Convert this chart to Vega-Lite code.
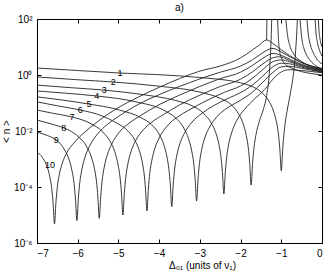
{
 "$schema": "https://vega.github.io/schema/vega-lite/v6.json",
 "width": 285, "height": 224,
 "autosize": {"type": "none"},
 "padding": {"left": 37, "top": 19, "right": 5, "bottom": 31},
 "title": {"text": "a)", "fontSize": 10, "font": "Liberation Sans", "fontWeight": "normal", "offset": 1, "color": "#000"},
 "config": {"view": {"stroke": "#000", "strokeWidth": 1}, "background": "#fff"},
 "datasets": {
  "curves": [
   {"s":"c10","x":-7,"y":-2.75},{"s":"c10","x":-6.87,"y":-2.94},{"s":"c10","x":-6.77,"y":-3.21},{"s":"c10","x":-6.69,"y":-3.6},{"s":"c10","x":-6.64,"y":-4.03},{"s":"c10","x":-6.605,"y":-4.56},{"s":"c10","x":-6.57,"y":-5.32},{"s":"c10","x":-6.535,"y":-4.55},{"s":"c10","x":-6.5,"y":-3.99},{"s":"c10","x":-6.45,"y":-3.54},{"s":"c10","x":-6.37,"y":-3.11},{"s":"c10","x":-6.27,"y":-2.78},{"s":"c10","x":-6.07,"y":-2.39},{"s":"c10","x":-5.82,"y":-2.03},{"s":"c10","x":-5.57,"y":-1.73},{"s":"c10","x":-5.1,"y":-1.25},{"s":"c10","x":-4.5,"y":-0.78},{"s":"c10","x":-4,"y":-0.44},{"s":"c10","x":-3.5,"y":-0.13},{"s":"c10","x":-3,"y":0.14},{"s":"c10","x":-2.5,"y":0.32},{"s":"c10","x":-2,"y":0.61},{"s":"c10","x":-1.75,"y":0.85},{"s":"c10","x":-1.55,"y":1.06},{"s":"c10","x":-1.36,"y":1.25},{"s":"c10","x":-1.2,"y":1.12},{"s":"c10","x":-1,"y":0.9},{"s":"c10","x":-0.8,"y":0.7},{"s":"c10","x":-0.5,"y":0.45},{"s":"c10","x":-0.25,"y":0.3},{"s":"c10","x":0,"y":0.2},
   {"s":"c9","x":-7,"y":-2.04},{"s":"c9","x":-6.75,"y":-2.16},{"s":"c9","x":-6.52,"y":-2.33},{"s":"c9","x":-6.32,"y":-2.68},{"s":"c9","x":-6.22,"y":-2.99},{"s":"c9","x":-6.14,"y":-3.42},{"s":"c9","x":-6.09,"y":-3.87},{"s":"c9","x":-6.055,"y":-4.43},{"s":"c9","x":-6.02,"y":-5.2},{"s":"c9","x":-5.985,"y":-4.42},{"s":"c9","x":-5.95,"y":-3.85},{"s":"c9","x":-5.9,"y":-3.39},{"s":"c9","x":-5.82,"y":-2.93},{"s":"c9","x":-5.72,"y":-2.57},{"s":"c9","x":-5.52,"y":-2.12},{"s":"c9","x":-5.27,"y":-1.76},{"s":"c9","x":-5.02,"y":-1.5},{"s":"c9","x":-4.5,"y":-1.04},{"s":"c9","x":-4,"y":-0.7},{"s":"c9","x":-3.5,"y":-0.41},{"s":"c9","x":-3,"y":-0.14},{"s":"c9","x":-2.5,"y":0.1},{"s":"c9","x":-2,"y":0.32},{"s":"c9","x":-1.7,"y":0.55},{"s":"c9","x":-1.5,"y":0.75},{"s":"c9","x":-1.3,"y":0.92},{"s":"c9","x":-1.2,"y":0.95},{"s":"c9","x":-1,"y":0.82},{"s":"c9","x":-0.7,"y":0.58},{"s":"c9","x":-0.4,"y":0.38},{"s":"c9","x":0,"y":0.2},
   {"s":"c8","x":-7,"y":-1.61},{"s":"c8","x":-6.6,"y":-1.77},{"s":"c8","x":-6.34,"y":-1.89},{"s":"c8","x":-6.1,"y":-2.07},{"s":"c8","x":-5.97,"y":-2.22},{"s":"c8","x":-5.77,"y":-2.58},{"s":"c8","x":-5.67,"y":-2.91},{"s":"c8","x":-5.59,"y":-3.34},{"s":"c8","x":-5.54,"y":-3.79},{"s":"c8","x":-5.505,"y":-4.35},{"s":"c8","x":-5.47,"y":-5.12},{"s":"c8","x":-5.435,"y":-4.34},{"s":"c8","x":-5.4,"y":-3.77},{"s":"c8","x":-5.35,"y":-3.3},{"s":"c8","x":-5.27,"y":-2.84},{"s":"c8","x":-5.17,"y":-2.48},{"s":"c8","x":-4.97,"y":-2.03},{"s":"c8","x":-4.72,"y":-1.7},{"s":"c8","x":-4.47,"y":-1.46},{"s":"c8","x":-4,"y":-1.06},{"s":"c8","x":-3.5,"y":-0.72},{"s":"c8","x":-3,"y":-0.41},{"s":"c8","x":-2.5,"y":-0.13},{"s":"c8","x":-2,"y":0.1},{"s":"c8","x":-1.7,"y":0.35},{"s":"c8","x":-1.45,"y":0.6},{"s":"c8","x":-1.2,"y":0.77},{"s":"c8","x":-1,"y":0.7},{"s":"c8","x":-0.7,"y":0.5},{"s":"c8","x":-0.4,"y":0.33},{"s":"c8","x":0,"y":0.18},
   {"s":"c7","x":-7,"y":-1.25},{"s":"c7","x":-6.6,"y":-1.37},{"s":"c7","x":-6.14,"y":-1.5},{"s":"c7","x":-5.7,"y":-1.72},{"s":"c7","x":-5.39,"y":-2.03},{"s":"c7","x":-5.19,"y":-2.41},{"s":"c7","x":-5.09,"y":-2.74},{"s":"c7","x":-5.01,"y":-3.2},{"s":"c7","x":-4.96,"y":-3.66},{"s":"c7","x":-4.925,"y":-4.22},{"s":"c7","x":-4.89,"y":-5},{"s":"c7","x":-4.855,"y":-4.23},{"s":"c7","x":-4.82,"y":-3.66},{"s":"c7","x":-4.77,"y":-3.19},{"s":"c7","x":-4.69,"y":-2.73},{"s":"c7","x":-4.59,"y":-2.38},{"s":"c7","x":-4.39,"y":-1.96},{"s":"c7","x":-4.14,"y":-1.64},{"s":"c7","x":-3.89,"y":-1.41},{"s":"c7","x":-3.5,"y":-1.07},{"s":"c7","x":-3,"y":-0.72},{"s":"c7","x":-2.5,"y":-0.41},{"s":"c7","x":-2,"y":-0.15},{"s":"c7","x":-1.7,"y":0.12},{"s":"c7","x":-1.45,"y":0.4},{"s":"c7","x":-1.2,"y":0.62},{"s":"c7","x":-1.05,"y":0.65},{"s":"c7","x":-0.8,"y":0.52},{"s":"c7","x":-0.5,"y":0.35},{"s":"c7","x":0,"y":0.16},
   {"s":"c6","x":-7,"y":-0.96},{"s":"c6","x":-6.5,"y":-1.1},{"s":"c6","x":-5.94,"y":-1.25},{"s":"c6","x":-5.4,"y":-1.46},{"s":"c6","x":-5.05,"y":-1.71},{"s":"c6","x":-4.8,"y":-1.95},{"s":"c6","x":-4.6,"y":-2.32},{"s":"c6","x":-4.5,"y":-2.64},{"s":"c6","x":-4.42,"y":-3.07},{"s":"c6","x":-4.37,"y":-3.52},{"s":"c6","x":-4.335,"y":-4.08},{"s":"c6","x":-4.3,"y":-4.85},{"s":"c6","x":-4.265,"y":-4.07},{"s":"c6","x":-4.23,"y":-3.51},{"s":"c6","x":-4.18,"y":-3.05},{"s":"c6","x":-4.1,"y":-2.6},{"s":"c6","x":-4,"y":-2.25},{"s":"c6","x":-3.8,"y":-1.82},{"s":"c6","x":-3.55,"y":-1.5},{"s":"c6","x":-3.3,"y":-1.28},{"s":"c6","x":-2.8,"y":-0.89},{"s":"c6","x":-2.4,"y":-0.62},{"s":"c6","x":-2,"y":-0.39},{"s":"c6","x":-1.7,"y":-0.11},{"s":"c6","x":-1.45,"y":0.2},{"s":"c6","x":-1.2,"y":0.48},{"s":"c6","x":-1,"y":0.54},{"s":"c6","x":-0.8,"y":0.47},{"s":"c6","x":-0.5,"y":0.32},{"s":"c6","x":0,"y":0.14},
   {"s":"c5","x":-7,"y":-0.78},{"s":"c5","x":-6.4,"y":-0.89},{"s":"c5","x":-5.72,"y":-1.04},{"s":"c5","x":-5,"y":-1.24},{"s":"c5","x":-4.44,"y":-1.53},{"s":"c5","x":-4.19,"y":-1.77},{"s":"c5","x":-3.99,"y":-2.14},{"s":"c5","x":-3.89,"y":-2.47},{"s":"c5","x":-3.81,"y":-2.91},{"s":"c5","x":-3.76,"y":-3.37},{"s":"c5","x":-3.725,"y":-3.93},{"s":"c5","x":-3.69,"y":-4.7},{"s":"c5","x":-3.655,"y":-3.92},{"s":"c5","x":-3.62,"y":-3.36},{"s":"c5","x":-3.57,"y":-2.9},{"s":"c5","x":-3.49,"y":-2.45},{"s":"c5","x":-3.39,"y":-2.11},{"s":"c5","x":-3.19,"y":-1.68},{"s":"c5","x":-2.94,"y":-1.36},{"s":"c5","x":-2.69,"y":-1.12},{"s":"c5","x":-2.3,"y":-0.83},{"s":"c5","x":-2,"y":-0.63},{"s":"c5","x":-1.7,"y":-0.35},{"s":"c5","x":-1.45,"y":-0.03},{"s":"c5","x":-1.2,"y":0.3},{"s":"c5","x":-1,"y":0.42},{"s":"c5","x":-0.8,"y":0.4},{"s":"c5","x":-0.5,"y":0.28},{"s":"c5","x":0,"y":0.12},
   {"s":"c4","x":-7,"y":-0.57},{"s":"c4","x":-6.3,"y":-0.65},{"s":"c4","x":-5.53,"y":-0.75},{"s":"c4","x":-4.6,"y":-0.95},{"s":"c4","x":-3.83,"y":-1.3},{"s":"c4","x":-3.58,"y":-1.55},{"s":"c4","x":-3.38,"y":-1.93},{"s":"c4","x":-3.28,"y":-2.27},{"s":"c4","x":-3.2,"y":-2.71},{"s":"c4","x":-3.15,"y":-3.17},{"s":"c4","x":-3.115,"y":-3.73},{"s":"c4","x":-3.08,"y":-4.5},{"s":"c4","x":-3.045,"y":-3.72},{"s":"c4","x":-3.01,"y":-3.16},{"s":"c4","x":-2.96,"y":-2.7},{"s":"c4","x":-2.88,"y":-2.25},{"s":"c4","x":-2.78,"y":-1.91},{"s":"c4","x":-2.58,"y":-1.49},{"s":"c4","x":-2.33,"y":-1.18},{"s":"c4","x":-2.08,"y":-0.97},{"s":"c4","x":-1.7,"y":-0.6},{"s":"c4","x":-1.45,"y":-0.25},{"s":"c4","x":-1.2,"y":0.1},{"s":"c4","x":-1,"y":0.29},{"s":"c4","x":-0.8,"y":0.31},{"s":"c4","x":-0.5,"y":0.24},{"s":"c4","x":0,"y":0.1},
   {"s":"c3","x":-7,"y":-0.36},{"s":"c3","x":-6.2,"y":-0.45},{"s":"c3","x":-5.35,"y":-0.54},{"s":"c3","x":-4.4,"y":-0.7},{"s":"c3","x":-3.6,"y":-0.91},{"s":"c3","x":-3.16,"y":-1.12},{"s":"c3","x":-2.91,"y":-1.37},{"s":"c3","x":-2.71,"y":-1.74},{"s":"c3","x":-2.61,"y":-2.06},{"s":"c3","x":-2.53,"y":-2.49},{"s":"c3","x":-2.48,"y":-2.94},{"s":"c3","x":-2.445,"y":-3.49},{"s":"c3","x":-2.41,"y":-4.25},{"s":"c3","x":-2.375,"y":-3.48},{"s":"c3","x":-2.34,"y":-2.92},{"s":"c3","x":-2.29,"y":-2.46},{"s":"c3","x":-2.21,"y":-2.02},{"s":"c3","x":-2.11,"y":-1.67},{"s":"c3","x":-1.91,"y":-1.24},{"s":"c3","x":-1.66,"y":-0.86},{"s":"c3","x":-1.41,"y":-0.52},{"s":"c3","x":-1.2,"y":-0.14},{"s":"c3","x":-1,"y":0.11},{"s":"c3","x":-0.8,"y":0.19},{"s":"c3","x":-0.5,"y":0.16},{"s":"c3","x":0,"y":0.08},
   {"s":"c2a","x":-7,"y":-0.07},{"s":"c2a","x":-6,"y":-0.17},{"s":"c2a","x":-5.13,"y":-0.25},{"s":"c2a","x":-4,"y":-0.4},{"s":"c2a","x":-3,"y":-0.61},{"s":"c2a","x":-2.49,"y":-0.84},{"s":"c2a","x":-2.24,"y":-1.05},{"s":"c2a","x":-2.04,"y":-1.41},{"s":"c2a","x":-1.94,"y":-1.73},{"s":"c2a","x":-1.86,"y":-2.16},{"s":"c2a","x":-1.81,"y":-2.61},{"s":"c2a","x":-1.775,"y":-3.16},{"s":"c2a","x":-1.74,"y":-3.93},{"s":"c2a","x":-1.705,"y":-3.15},{"s":"c2a","x":-1.67,"y":-2.59},{"s":"c2a","x":-1.62,"y":-2.12},{"s":"c2a","x":-1.54,"y":-1.66},{"s":"c2a","x":-1.44,"y":-1.23},{"s":"c2a","x":-1.36,"y":-0.74},{"s":"c2a","x":-1.31,"y":-0.2},{"s":"c2a","x":-1.28,"y":0.35},{"s":"c2a","x":-1.26,"y":0.9},{"s":"c2a","x":-1.245,"y":1.45},{"s":"c2a","x":-1.235,"y":2},
   {"s":"c2b","x":-1.09,"y":2},{"s":"c2b","x":-1.07,"y":1.3},{"s":"c2b","x":-1.04,"y":0.85},{"s":"c2b","x":-0.98,"y":0.55},{"s":"c2b","x":-0.9,"y":0.38},{"s":"c2b","x":-0.75,"y":0.25},{"s":"c2b","x":-0.5,"y":0.12},{"s":"c2b","x":-0.25,"y":0.05},{"s":"c2b","x":0,"y":0},
   {"s":"c1a","x":-7,"y":0.25},{"s":"c1a","x":-6,"y":0.16},{"s":"c1a","x":-4.96,"y":0.07},{"s":"c1a","x":-4,"y":0.01},{"s":"c1a","x":-3,"y":-0.09},{"s":"c1a","x":-2,"y":-0.28},{"s":"c1a","x":-1.75,"y":-0.39},{"s":"c1a","x":-1.5,"y":-0.6},{"s":"c1a","x":-1.3,"y":-0.94},{"s":"c1a","x":-1.2,"y":-1.25},{"s":"c1a","x":-1.12,"y":-1.67},{"s":"c1a","x":-1.07,"y":-2.11},{"s":"c1a","x":-1.035,"y":-2.66},{"s":"c1a","x":-1,"y":-3.42},{"s":"c1a","x":-0.965,"y":-2.63},{"s":"c1a","x":-0.93,"y":-2.04},{"s":"c1a","x":-0.88,"y":-1.48},{"s":"c1a","x":-0.8,"y":-0.84},{"s":"c1a","x":-0.72,"y":-0.16},{"s":"c1a","x":-0.67,"y":0.43},{"s":"c1a","x":-0.64,"y":1.03},{"s":"c1a","x":-0.62,"y":1.5},{"s":"c1a","x":-0.605,"y":2},
   {"s":"c1b","x":-0.54,"y":2},{"s":"c1b","x":-0.5,"y":1.35},{"s":"c1b","x":-0.45,"y":0.98},{"s":"c1b","x":-0.38,"y":0.72},{"s":"c1b","x":-0.28,"y":0.5},{"s":"c1b","x":-0.15,"y":0.33},{"s":"c1b","x":0,"y":0.2},
   {"s":"th","x":-1.36,"y":1.25},{"s":"th","x":-1.357,"y":1.6},{"s":"th","x":-1.353,"y":2},
   {"s":"ta","x":-0.89,"y":2},{"s":"ta","x":-0.85,"y":1.45},{"s":"ta","x":-0.79,"y":1.05},{"s":"ta","x":-0.68,"y":0.72},{"s":"ta","x":-0.5,"y":0.48},{"s":"ta","x":-0.25,"y":0.32},{"s":"ta","x":0,"y":0.24},
   {"s":"tb","x":-0.37,"y":2},{"s":"tb","x":-0.34,"y":1.5},{"s":"tb","x":-0.29,"y":1.1},{"s":"tb","x":-0.21,"y":0.78},{"s":"tb","x":-0.1,"y":0.52},{"s":"tb","x":0,"y":0.4},
   {"s":"tc","x":-0.17,"y":2},{"s":"tc","x":-0.15,"y":1.55},{"s":"tc","x":-0.11,"y":1.15},{"s":"tc","x":-0.06,"y":0.88},{"s":"tc","x":0,"y":0.68},
   {"s":"td","x":-0.09,"y":2},{"s":"td","x":-0.075,"y":1.6},{"s":"td","x":-0.05,"y":1.3},{"s":"td","x":-0.02,"y":1.1},{"s":"td","x":0,"y":1}
  ],
  "labels": [
   {"t":"1","x":-4.96,"y":0.07},{"t":"2","x":-5.13,"y":-0.25},{"t":"3","x":-5.35,"y":-0.54},{"t":"4","x":-5.53,"y":-0.75},{"t":"5","x":-5.72,"y":-1.04},{"t":"6","x":-5.94,"y":-1.25},{"t":"7","x":-6.14,"y":-1.5},{"t":"8","x":-6.34,"y":-1.89},{"t":"9","x":-6.53,"y":-2.32},{"t":"10","x":-6.68,"y":-3.21}
  ]
 },
 "layer": [
  {
   "data": {"name": "curves"},
   "mark": {"type": "line", "interpolate": "monotone", "clip": true, "strokeWidth": 0.9, "color": "#222"},
   "encoding": {
    "x": {"field": "x", "type": "quantitative", "scale": {"domain": [-7, 0], "nice": false, "zero": false},
     "axis": {"values": [-7,-6,-5,-4,-3,-2,-1,0], "format": "d", "grid": false, "tickSize": -4, "tickColor": "#000", "domainColor": "#000", "labelPadding": 9, "labelFont": "Liberation Sans", "labelFontSize": 10, "labelColor": "#000", "title": "Δ₀₁  (units of  ν₁)", "titleFont": "Liberation Sans", "titleFontSize": 10, "titleFontWeight": "normal", "titleColor": "#000", "titlePadding": 2, "titleX": 165}},
    "y": {"field": "y", "type": "quantitative", "scale": {"domain": [-6, 2], "nice": false, "zero": false},
     "axis": {"values": [-6,-4,-2,0,2], "labelExpr": "datum.value == 2 ? '10²' : datum.value == 0 ? '10⁰' : datum.value == -2 ? '10⁻²' : datum.value == -4 ? '10⁻⁴' : '10⁻⁶'", "grid": false, "tickSize": -4, "tickColor": "#000", "domainColor": "#000", "labelPadding": 9, "labelFont": "Liberation Sans", "labelFontSize": 10, "labelColor": "#000", "title": "< n >", "titleFont": "Liberation Sans", "titleFontSize": 10, "titleFontWeight": "normal", "titleColor": "#000", "titlePadding": 2}},
    "detail": {"field": "s", "type": "nominal"}
   }
  },
  {
   "data": {"name": "labels"},
   "mark": {"type": "text", "font": "Liberation Sans", "fontSize": 9, "color": "#000", "align": "center", "baseline": "middle"},
   "encoding": {
    "x": {"field": "x", "type": "quantitative", "scale": {"domain": [-7, 0], "nice": false, "zero": false},
     "axis": {"orient": "top", "values": [-7,-6,-5,-4,-3,-2,-1,0], "labels": false, "title": null, "grid": false, "tickSize": -4, "tickColor": "#000", "domain": false}},
    "y": {"field": "y", "type": "quantitative", "scale": {"domain": [-6, 2], "nice": false, "zero": false},
     "axis": {"orient": "right", "values": [-6,-4,-2,0,2], "labels": false, "title": null, "grid": false, "tickSize": -4, "tickColor": "#000", "domain": false}},
    "text": {"field": "t", "type": "nominal"}
   }
  }
 ],
 "resolve": {"axis": {"x": "independent", "y": "independent"}}
}
